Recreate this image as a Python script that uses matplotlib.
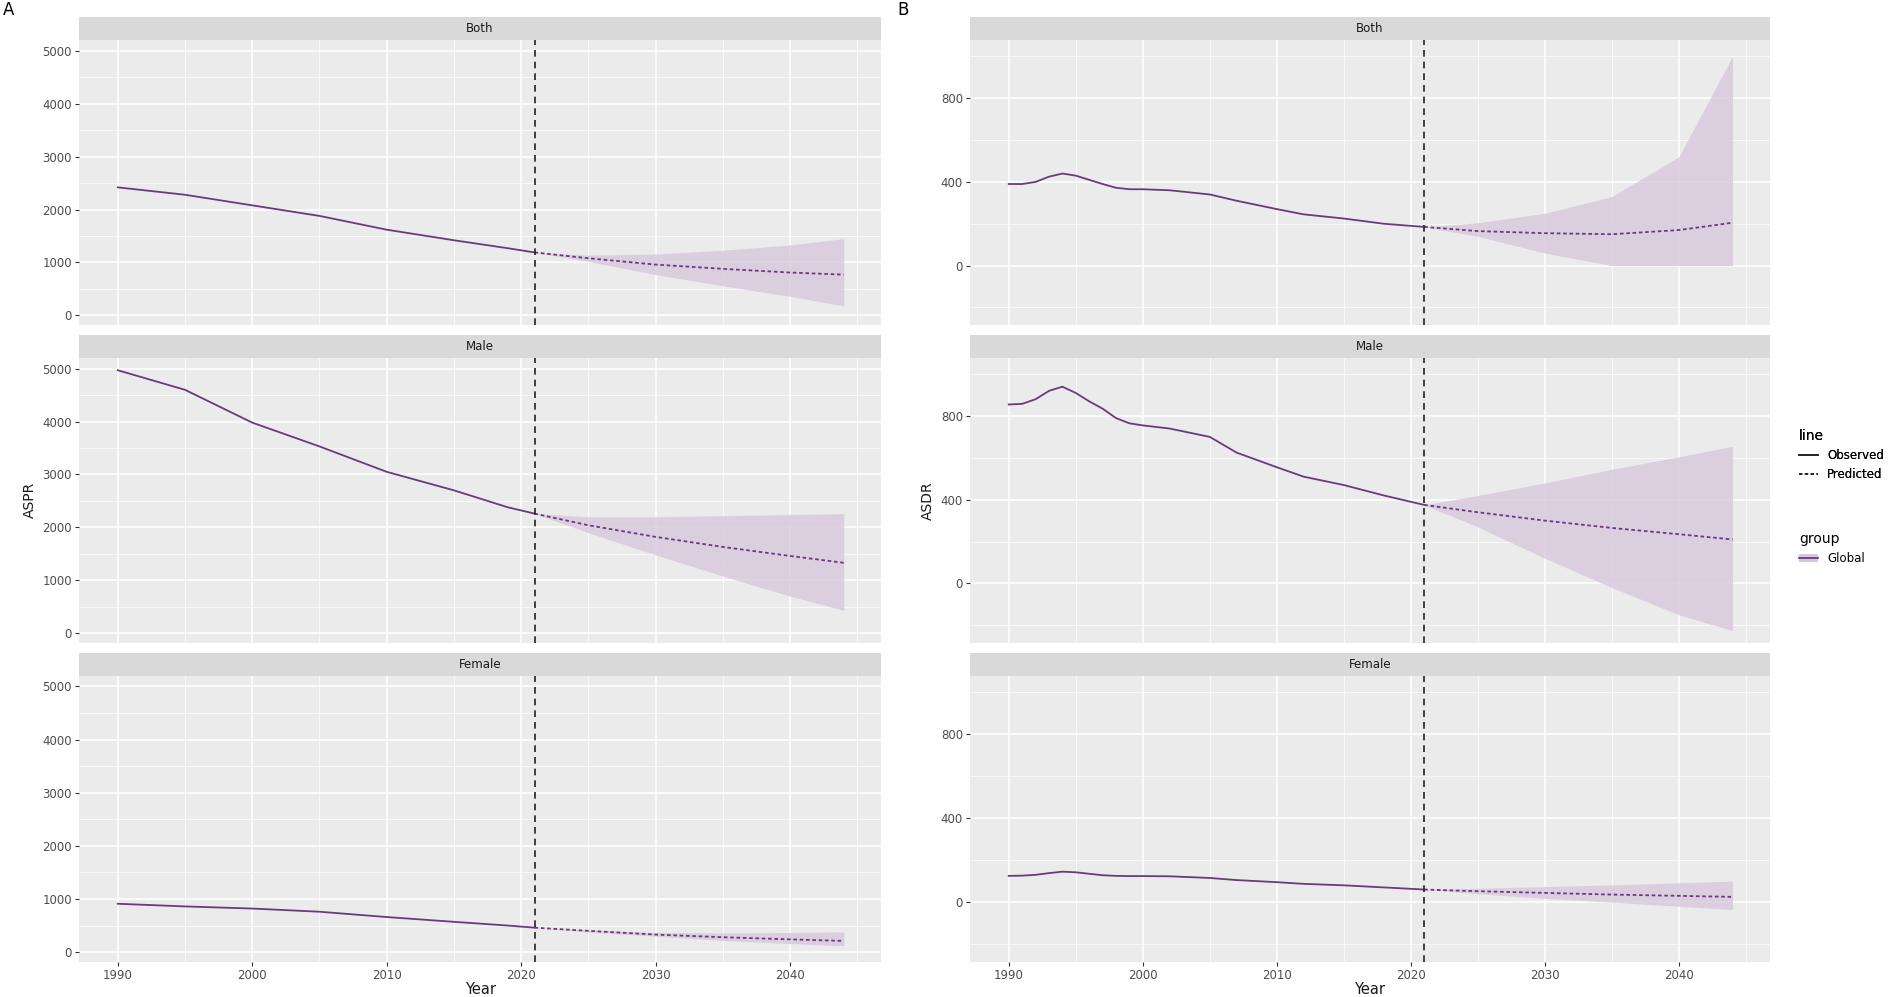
import matplotlib
matplotlib.use("Agg")
import matplotlib.pyplot as plt
from matplotlib.lines import Line2D
from matplotlib.patches import Patch

sexes = ["Both", "Male", "Female"]

# ASPR observed
obs_years_aspr = [1990, 1995, 2000, 2005, 2010, 2015, 2019, 2021]
aspr_obs = {
    "Both":   [2420, 2280, 2080, 1880, 1620, 1420, 1270, 1190],
    "Male":   [4970, 4600, 3980, 3530, 3050, 2700, 2380, 2260],
    "Female": [910, 860, 820, 760, 660, 570, 500, 460],
}
pred_years = [2021, 2025, 2030, 2035, 2040, 2044]
aspr_pred = {
    "Both":   [1190, 1080, 960, 880, 810, 770],
    "Male":   [2260, 2040, 1820, 1630, 1460, 1330],
    "Female": [460, 400, 330, 280, 240, 210],
}
aspr_up = {
    "Both":   [1190, 1140, 1160, 1230, 1330, 1450],
    "Male":   [2260, 2200, 2200, 2220, 2240, 2260],
    "Female": [460, 420, 370, 360, 370, 380],
}
aspr_lo = {
    "Both":   [1190, 1020, 770, 560, 360, 180],
    "Male":   [2260, 1900, 1480, 1080, 700, 430],
    "Female": [460, 380, 300, 220, 160, 120],
}

# ASDR observed
obs_years_asdr = [1990, 1991, 1992, 1993, 1994, 1995, 1996, 1997, 1998, 1999, 2000,
                  2002, 2005, 2007, 2010, 2012, 2015, 2018, 2021]
asdr_obs = {
    "Both":   [390, 390, 400, 425, 440, 430, 410, 390, 372, 365, 365,
               360, 340, 310, 270, 245, 225, 200, 185],
    "Male":   [855, 858, 880, 920, 940, 910, 870, 835, 790, 765, 755,
               740, 700, 625, 555, 510, 470, 420, 375],
    "Female": [125, 126, 130, 138, 145, 142, 135, 128, 125, 124, 124,
               123, 115, 105, 95, 87, 80, 70, 60],
}
asdr_pred = {
    "Both":   [185, 165, 155, 150, 170, 205],
    "Male":   [375, 340, 300, 265, 235, 210],
    "Female": [60, 52, 44, 36, 30, 25],
}
asdr_up = {
    "Both":   [185, 205, 250, 330, 520, 1000],
    "Male":   [375, 420, 480, 545, 605, 655],
    "Female": [60, 66, 74, 82, 92, 100],
}
asdr_lo = {
    "Both":   [185, 140, 60, 0, 0, 0],
    "Male":   [375, 270, 120, -20, -150, -225],
    "Female": [60, 40, 18, 0, -20, -35],
}

LINE = "#6B3A7D"
FILL = "#D6C7DC"
W, H = 1568, 822
fig = plt.figure(figsize=(19.01, 9.97), dpi=100)
fig.patch.set_facecolor("white")

rows = [(14, 33, 268), (276, 295, 530), (538, 557, 793)]
cols = [(65, 727), (800, 1460)]

def ax_at(x0, y0, x1, y1):
    return fig.add_axes([x0 / W, 1 - y1 / H, (x1 - x0) / W, (y1 - y0) / H])

def style(ax):
    ax.set_facecolor("#EBEBEB")
    for s in ax.spines.values():
        s.set_visible(False)
    ax.tick_params(length=3, color="#333333", labelcolor="#4D4D4D", labelsize=8.5, pad=2)
    ax.grid(True, which="major", color="white", lw=1.1)
    ax.grid(True, which="minor", color="white", lw=0.5)
    ax.set_axisbelow(True)

datasets = [
    (obs_years_aspr, aspr_obs, aspr_pred, aspr_up, aspr_lo, (-183, 5205), [0, 1000, 2000, 3000, 4000, 5000], "ASPR"),
    (obs_years_asdr, asdr_obs, asdr_pred, asdr_up, asdr_lo, (-284, 1078), [0, 400, 800], "ASDR"),
]

for ci, (cx0, cx1) in enumerate(cols):
    oy, obs, pred, up, lo, ylim, yt, ylab = datasets[ci]
    for ri, (sy0, py0, py1) in enumerate(rows):
        sex = sexes[ri]
        st = ax_at(cx0, sy0, cx1, py0)
        st.set_facecolor("#D9D9D9")
        st.set_xticks([]); st.set_yticks([])
        for s in st.spines.values():
            s.set_visible(False)
        st.text(0.5, 0.5, sex, ha="center", va="center", fontsize=8.5, color="#1A1A1A", transform=st.transAxes)
        ax = ax_at(cx0, py0, cx1, py1)
        style(ax)
        ax.fill_between(pred_years, lo[sex], up[sex], color=FILL, alpha=0.8, lw=0)
        ax.plot(oy, obs[sex], color=LINE, lw=1.3)
        ax.plot(pred_years, pred[sex], color=LINE, lw=1.3, ls=(0, (2, 1.5)))
        ax.axvline(2021, color="#222222", ls=(0, (4, 3)), lw=1.2)
        ax.set_xticks([1990, 2000, 2010, 2020, 2030, 2040])
        ax.set_xticks([1995, 2005, 2015, 2025, 2035, 2045], minor=True)
        ax.set_yticks(yt)
        step = yt[1] - yt[0]
        ax.set_yticks([v + step / 2 for v in [yt[0] - step] + yt], minor=True)
        ax.tick_params(which="minor", length=0)
        ax.set_xlim(1987.1, 2046.8)
        ax.set_ylim(*ylim)
        if ri == 2:
            ax.set_xlabel("Year", fontsize=10.5, color="#1A1A1A", labelpad=0)
        else:
            ax.tick_params(axis="x", which="both", length=0, labelbottom=False)
        if ri == 1:
            ax.set_ylabel(ylab, fontsize=10, color="#1A1A1A")

fig.text(2 / W, 1 - 8 / H, "A", fontsize=12, va="center")
fig.text(740 / W, 1 - 8 / H, "B", fontsize=12, va="center")

h1 = [Line2D([], [], color="#222222", lw=1.2), Line2D([], [], color="#222222", lw=1.2, ls=(0, (2, 1.5)))]
leg1 = fig.legend(h1, ["Observed", "Predicted"], title="line", loc="upper left",
                  bbox_to_anchor=(1475 / W, 1 - 345 / H), frameon=False, fontsize=8.5,
                  title_fontsize=10, alignment="left", handlelength=1.6)
fig.add_artist(leg1)
h2 = [(Patch(facecolor=FILL, edgecolor="none"), Line2D([], [], color=LINE, lw=1.3))]
fig.legend(h2, ["Global"], title="group", loc="upper left",
           bbox_to_anchor=(1475 / W, 1 - 430 / H), frameon=False, fontsize=8.5,
           title_fontsize=10, alignment="left", handlelength=1.6)

fig.savefig("out.png", dpi=100)
